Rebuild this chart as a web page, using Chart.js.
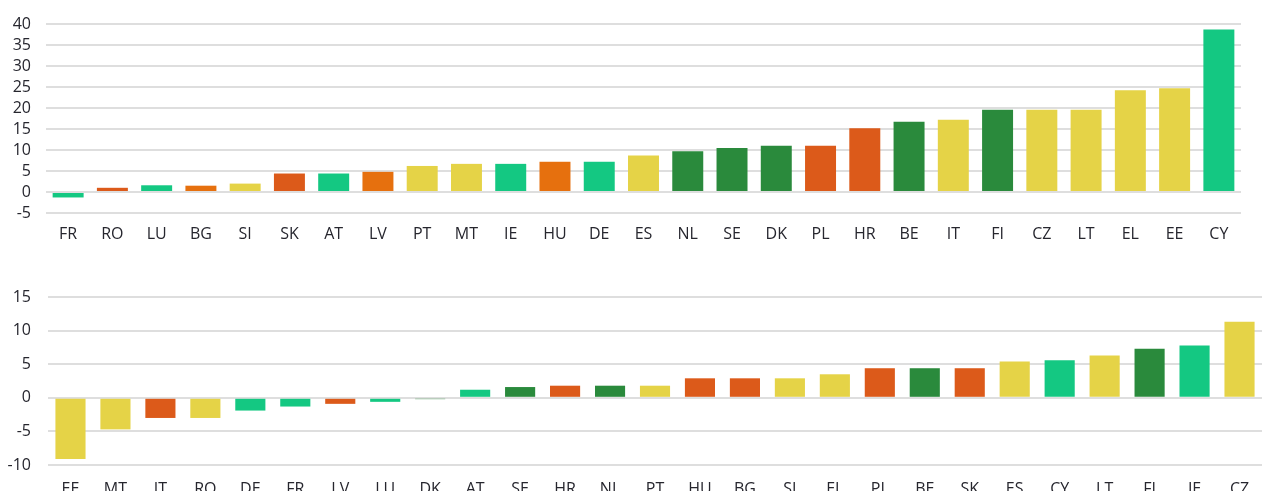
<!DOCTYPE html>
<html>
<head>
<meta charset="utf-8">
<script src="https://cdn.jsdelivr.net/npm/chart.js@4/dist/chart.umd.min.js"></script>
<style>
  html, body { margin: 0; padding: 0; background: #fff; overflow: hidden; width: 1269px; height: 491px; }
  #topChart { position: absolute; left: 0; top: 0; }
  #bottomChart { position: absolute; left: 0; top: 280px; }
</style>
</head>
<body>
<canvas id="topChart" width="1269" height="250"></canvas>
<canvas id="bottomChart" width="1269" height="230"></canvas>
<script>
// colour groups
const COLORS = {
  lg: '#14c882', // light green
  dg: '#2a8a3c', // dark green
  ro: '#dc5a1a', // red-orange
  or: '#e6700e', // orange
  ye: '#e5d347'  // yellow
};

// top panel
const topCountries = ['FR','RO','LU','BG','SI','SK','AT','LV','PT','MT','IE','HU','DE','ES','NL','SE','DK','PL','HR','BE','IT','FI','CZ','LT','EL','EE','CY'];
const topValues = [-1.3, 1.0, 1.6, 1.5, 2.0, 4.4, 4.4, 4.8, 6.2, 6.7, 6.7, 7.2, 7.2, 8.7, 9.7, 10.5, 11.0, 11.0, 15.2, 16.7, 17.2, 19.6, 19.6, 19.6, 24.2, 24.7, 38.7];
const topGroups = ['lg','ro','lg','or','ye','ro','lg','or','ye','ye','lg','or','lg','ye','dg','dg','dg','ro','ro','dg','ye','dg','ye','ye','ye','ye','lg'];

// bottom panel
const bottomCountries = ['EE','MT','IT','RO','DE','FR','LV','LU','DK','AT','SE','HR','NL','PT','HU','BG','SI','EL','PL','BE','SK','ES','CY','LT','FI','IE','CZ'];
const bottomValues = [-9.1, -4.7, -3.0, -3.0, -1.9, -1.3, -0.9, -0.6, -0.2, 1.2, 1.6, 1.8, 1.8, 1.8, 2.9, 2.9, 2.9, 3.5, 4.4, 4.4, 4.4, 5.4, 5.6, 6.3, 7.3, 7.8, 11.3];
const bottomGroups = ['ye','ye','ro','ye','lg','lg','ro','lg','dg','lg','dg','ro','dg','ye','ro','ro','ye','ye','ro','dg','ro','ye','lg','ye','dg','lg','ye'];

const FONT = { family: '"Open Sans", sans-serif', size: 16 };
const TEXT_COLOR = '#26262e';

const makeChart = (canvasId, cfg) => {
  const ctx = document.getElementById(canvasId).getContext('2d');
  return new Chart(ctx, {
    type: 'bar',
    data: {
      labels: cfg.labels,
      datasets: [{
        data: cfg.values,
        backgroundColor: cfg.groups.map((g) => COLORS[g]),
        borderWidth: 0,
        categoryPercentage: 1,
        barPercentage: cfg.barPct,
      }],
    },
    options: {
      responsive: false,
      animation: false,
      layout: { padding: cfg.padding },
      plugins: { legend: { display: false }, tooltip: { enabled: false } },
      scales: {
        x: {
          grid: { display: false, drawTicks: false },
          border: { display: false },
          ticks: { font: FONT, color: TEXT_COLOR, padding: cfg.xPad, maxRotation: 0, autoSkip: false },
          afterFit: (scale) => { scale.height = cfg.xHeight; },
        },
        y: {
          min: cfg.min,
          max: cfg.max,
          // invisible tick marks keep the labels away from the plot without
          // adding to the top padding (ticks.padding would)
          grid: { color: '#dedede', lineWidth: 2, drawTicks: true, tickLength: cfg.yGap, tickColor: 'rgba(0,0,0,0)' },
          border: { display: false },
          ticks: { stepSize: 5, font: FONT, color: TEXT_COLOR, padding: 0, autoSkip: false },
          afterFit: (scale) => { scale.width = cfg.yWidth; },
        },
      },
    },
  });
};

makeChart('topChart', {
  labels: topCountries, values: topValues, groups: topGroups,
  min: -5, max: 40, barPct: 0.7,
  padding: { top: 24, right: 28, left: 0, bottom: 0 },
  xHeight: 37, xPad: 12, yWidth: 46, yGap: 15,
});

makeChart('bottomChart', {
  labels: bottomCountries, values: bottomValues, groups: bottomGroups,
  min: -10, max: 15, barPct: 0.67,
  padding: { top: 17, right: 7, left: 0, bottom: 0 },
  xHeight: 45, xPad: 15, yWidth: 48, yGap: 17,
});
</script>
</body>
</html>
